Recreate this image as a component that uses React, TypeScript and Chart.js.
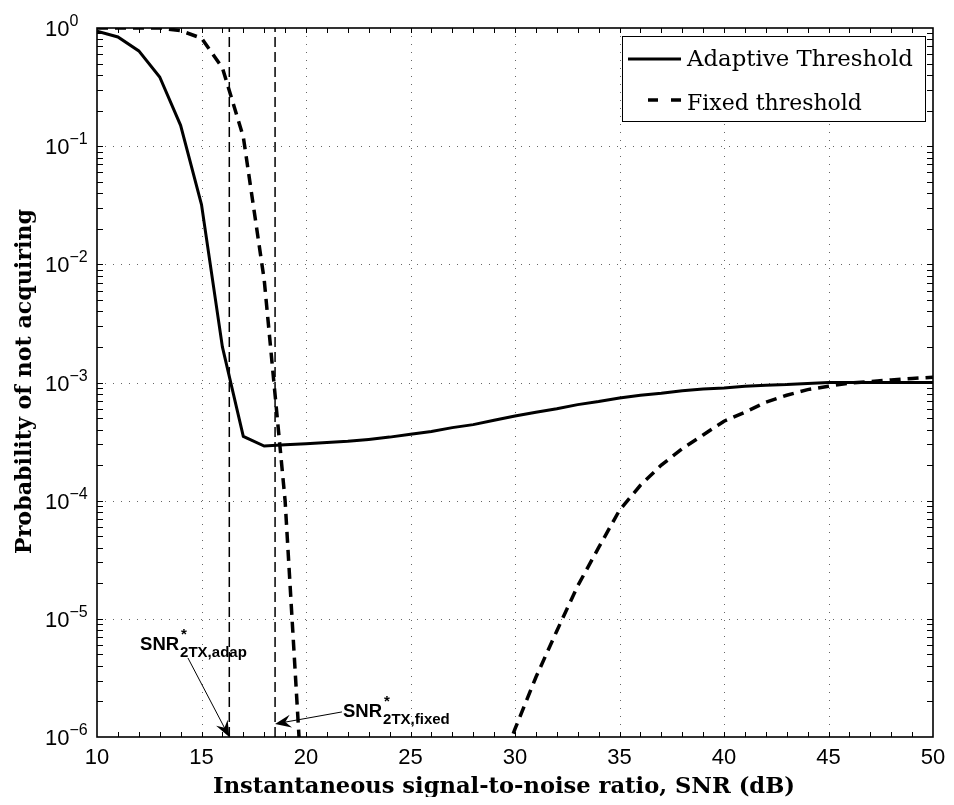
import React, { useEffect, useRef } from "react";
import { Chart, registerables } from "chart.js";

Chart.register(...registerables);

// ---------------- data ----------------
const SNR_DB = [
  10, 11, 12, 13, 14, 15, 16, 17, 18, 19, 20, 21, 22, 23, 24, 25, 26, 27, 28, 29,
  30, 31, 32, 33, 34, 35, 36, 37, 38, 39, 40, 41, 42, 43, 44, 45, 46, 47, 48, 49, 50,
];

const ADAPTIVE = [
  0.94, 0.84, 0.64, 0.385, 0.15, 0.032, 2.0e-3, 3.5e-4, 2.9e-4, 2.97e-4,
  3.03e-4, 3.1e-4, 3.18e-4, 3.3e-4, 3.45e-4, 3.65e-4, 3.85e-4, 4.15e-4, 4.4e-4, 4.8e-4,
  5.2e-4, 5.6e-4, 6.0e-4, 6.5e-4, 6.9e-4, 7.4e-4, 7.8e-4, 8.1e-4, 8.5e-4, 8.8e-4,
  9.0e-4, 9.3e-4, 9.5e-4, 9.6e-4, 9.8e-4, 1.0e-3, 1.0e-3, 1.0e-3, 1.0e-3, 1.0e-3, 1.0e-3,
];

const FIXED: (number | null)[] = [
  1.0, 1.0, 1.0, 1.0, 0.95, 0.82, 0.46, 0.12, 7.4e-3, 1.0e-4,
  1.0e-7, null, null, null, null, null, null, null, null, 4.0e-7,
  1.17e-6, 3.2e-6, 7.9e-6, 1.9e-5, 4.0e-5, 8.3e-5, 1.35e-4, 2.0e-4, 2.75e-4, 3.6e-4,
  4.7e-4, 5.6e-4, 6.8e-4, 7.8e-4, 8.7e-4, 9.3e-4, 9.9e-4, 1.02e-3, 1.05e-3, 1.08e-3, 1.11e-3,
];

const SNR_ADAP_STAR = 16.33;
const SNR_FIXED_STAR = 18.52;

const X_TICKS = [10, 15, 20, 25, 30, 35, 40, 45, 50];
const Y_EXPONENTS = [0, -1, -2, -3, -4, -5, -6];

const SERIES_LABELS = ["Adaptive Threshold", "Fixed threshold"];
const X_TITLE = "Instantaneous signal-to-noise ratio, SNR (dB)";
const Y_TITLE = "Probability of not acquiring";

// annotations (text anchor + arrow) in data coordinates
const ANNOTATIONS = [
  { sub: "2TX,adap", textX: 12.06, textY: 5.44e-6, tailX: 14.35, tailY: 4.67e-6, tipX: SNR_ADAP_STAR, tipY: 1.0e-6 },
  { sub: "2TX,fixed", textX: 21.77, textY: 1.48e-6, tailX: 21.72, tailY: 1.63e-6, tipX: SNR_FIXED_STAR, tipY: 1.29e-6 },
];

// ---------------- helpers ----------------
const SANS = "'Liberation Sans', Arial, Helvetica, sans-serif";
const SERIF = "'DejaVu Serif', serif";

function fitFont(ctx: CanvasRenderingContext2D, text: string, weight: string, family: string, width: number) {
  ctx.font = `${weight} 20px ${family}`;
  const w = ctx.measureText(text).width;
  const s = (20 * width) / w;
  ctx.font = `${weight} ${s}px ${family}`;
}

function seg(ctx: CanvasRenderingContext2D, x1: number, y1: number, x2: number, y2: number) {
  ctx.beginPath();
  ctx.moveTo(x1, y1);
  ctx.lineTo(x2, y2);
  ctx.stroke();
}

const framePlugin = {
  id: "matlabFrame",
  beforeDatasetsDraw(chart: any) {
    const { ctx, chartArea: a, scales } = chart;
    const x = scales.x;
    const y = scales.y;
    ctx.save();
    ctx.strokeStyle = "rgba(0,0,0,0.6)";
    ctx.lineWidth = 1;
    ctx.setLineDash([1, 7]);
    for (const t of X_TICKS) {
      if (t === 10 || t === 50) continue;
      const px = Math.round(x.getPixelForValue(t)) + 0.5;
      seg(ctx, px, a.top, px, a.bottom);
    }
    for (const e of Y_EXPONENTS) {
      if (e === 0 || e === -6) continue;
      const py = Math.round(y.getPixelForValue(Math.pow(10, e))) + 0.5;
      seg(ctx, a.left, py, a.right, py);
    }
    ctx.restore();
  },
  afterDraw(chart: any) {
    const { ctx, chartArea: a, scales } = chart;
    const x = scales.x;
    const y = scales.y;
    ctx.save();
    ctx.setLineDash([]);
    ctx.strokeStyle = "#000";
    ctx.fillStyle = "#000";

    // ticks (inward, all four sides)
    ctx.lineWidth = 1;
    for (let v = 11; v < 50; v++) {
      const px = Math.round(x.getPixelForValue(v)) + 0.5;
      seg(ctx, px, a.bottom, px, a.bottom - 5);
      seg(ctx, px, a.top, px, a.top + 5);
    }
    for (let e = -6; e < 0; e++) {
      for (let m = 1; m <= 9; m++) {
        if (e === -6 && m === 1) continue;
        const py = Math.round(y.getPixelForValue(m * Math.pow(10, e))) + 0.5;
        seg(ctx, a.left, py, a.left + 6, py);
        seg(ctx, a.right, py, a.right - 6, py);
      }
    }

    // axes box
    ctx.lineWidth = 1.6;
    ctx.strokeRect(a.left, a.top, a.right - a.left, a.bottom - a.top);

    // y tick labels 10^e
    ctx.textBaseline = "alphabetic";
    ctx.textAlign = "left";
    for (const e of Y_EXPONENTS) {
      const py = y.getPixelForValue(Math.pow(10, e));
      const lx = a.left - 52;
      ctx.font = `22px ${SANS}`;
      ctx.fillText("10", lx, py + 8);
      const w = ctx.measureText("10").width;
      ctx.font = `16px ${SANS}`;
      ctx.fillText(e === 0 ? "0" : "\u2212" + String(-e), lx + w, py - 2);
    }

    // x tick labels
    ctx.textAlign = "center";
    ctx.font = `22px ${SANS}`;
    for (const t of X_TICKS) {
      ctx.fillText(String(t), x.getPixelForValue(t), a.bottom + 27);
    }

    // axis titles
    fitFont(ctx, X_TITLE, "bold", SERIF, 582);
    ctx.textAlign = "center";
    ctx.fillText(X_TITLE, (a.left + a.right) / 2 - 11, 785);

    ctx.save();
    ctx.translate(23, (a.top + a.bottom) / 2 - 1);
    ctx.rotate(-Math.PI / 2);
    fitFont(ctx, Y_TITLE, "bold", SERIF, 345);
    ctx.textAlign = "center";
    ctx.fillText(Y_TITLE, 0, 0);
    ctx.restore();

    // legend
    const bx = a.left + 525;
    const by = a.top + 8;
    const bw = a.right - 8 - bx;
    const bh = 85;
    ctx.fillStyle = "#fff";
    ctx.fillRect(bx, by, bw, bh);
    ctx.strokeStyle = "#000";
    ctx.lineWidth = 1;
    ctx.strokeRect(bx + 0.5, by + 0.5, bw, bh);
    ctx.fillStyle = "#000";
    ctx.lineWidth = 3;
    seg(ctx, bx + 6, by + 23, bx + 59, by + 23);
    ctx.lineWidth = 3.5;
    ctx.setLineDash([10, 13]);
    ctx.lineDashOffset = 0;
    seg(ctx, bx + 26, by + 64, bx + 59, by + 64);
    ctx.setLineDash([]);
    ctx.textAlign = "left";
    fitFont(ctx, SERIES_LABELS[0], "normal", SERIF, 226);
    ctx.fillText(SERIES_LABELS[0], bx + 65, by + 30);
    fitFont(ctx, SERIES_LABELS[1], "normal", SERIF, 175);
    ctx.fillText(SERIES_LABELS[1], bx + 65, by + 74);

    // annotations
    for (const an of ANNOTATIONS) {
      const tx = x.getPixelForValue(an.textX);
      const ty = y.getPixelForValue(an.textY);
      ctx.font = `bold 18.5px ${SANS}`;
      ctx.fillText("SNR", tx, ty);
      const w = ctx.measureText("SNR").width;
      ctx.font = `bold 15px ${SANS}`;
      ctx.fillText("*", tx + w + 2, ty - 11);
      ctx.font = `bold 15px ${SANS}`;
      ctx.fillText(an.sub, tx + w + 1, ty + 7);

      const x1 = x.getPixelForValue(an.tailX);
      const y1 = y.getPixelForValue(an.tailY);
      const x2 = x.getPixelForValue(an.tipX);
      const y2 = y.getPixelForValue(an.tipY);
      const ang = Math.atan2(y2 - y1, x2 - x1);
      const hl = 16;
      const hw = 6.5;
      const c = Math.cos(ang);
      const s = Math.sin(ang);
      ctx.lineWidth = 1;
      seg(ctx, x1, y1, x2 - c * hl * 0.6, y2 - s * hl * 0.6);
      ctx.beginPath();
      ctx.moveTo(x2, y2);
      ctx.lineTo(x2 - c * hl - s * hw, y2 - s * hl + c * hw);
      ctx.lineTo(x2 - c * hl * 0.65, y2 - s * hl * 0.65);
      ctx.lineTo(x2 - c * hl + s * hw, y2 - s * hl - c * hw);
      ctx.closePath();
      ctx.fill();
    }
    ctx.restore();
  },
};

export default function App() {
  const ref = useRef<HTMLCanvasElement | null>(null);

  useEffect(() => {
    if (!ref.current) return;
    const toXY = (vals: (number | null)[]) => SNR_DB.map((s, i) => ({ x: s, y: vals[i] }));
    const chart = new Chart(ref.current, {
      type: "line",
      data: {
        datasets: [
          {
            label: SERIES_LABELS[0],
            data: toXY(ADAPTIVE) as any,
            borderColor: "#000",
            borderWidth: 3,
            pointRadius: 0,
            tension: 0,
            fill: false,
          },
          {
            label: SERIES_LABELS[1],
            data: toXY(FIXED) as any,
            borderColor: "#000",
            borderWidth: 3.5,
            borderDash: [11, 7],
            pointRadius: 0,
            tension: 0,
            fill: false,
            spanGaps: false,
          },
          {
            label: "adap",
            data: [
              { x: SNR_ADAP_STAR, y: 1e-6 },
              { x: SNR_ADAP_STAR, y: 1 },
            ],
            borderColor: "#000",
            borderWidth: 1.5,
            borderDash: [10, 5],
            pointRadius: 0,
          },
          {
            label: "fixed",
            data: [
              { x: SNR_FIXED_STAR, y: 1e-6 },
              { x: SNR_FIXED_STAR, y: 1 },
            ],
            borderColor: "#000",
            borderWidth: 1.5,
            borderDash: [10, 5],
            pointRadius: 0,
          },
        ],
      },
      options: {
        animation: false,
        responsive: false,
        devicePixelRatio: 1,
        layout: { padding: { left: 89, right: 13, top: 20, bottom: 60 } },
        plugins: { legend: { display: false }, tooltip: { enabled: false } },
        scales: {
          x: { type: "linear", min: 10, max: 50, display: false },
          y: { type: "logarithmic", min: 1e-6, max: 1, display: false },
        },
      },
      plugins: [framePlugin],
    });
    return () => chart.destroy();
  }, []);

  return (
    <div style={{ width: 938, height: 789 }}>
      <canvas ref={ref} width={938} height={789} style={{ display: "block" }} />
    </div>
  );
}
